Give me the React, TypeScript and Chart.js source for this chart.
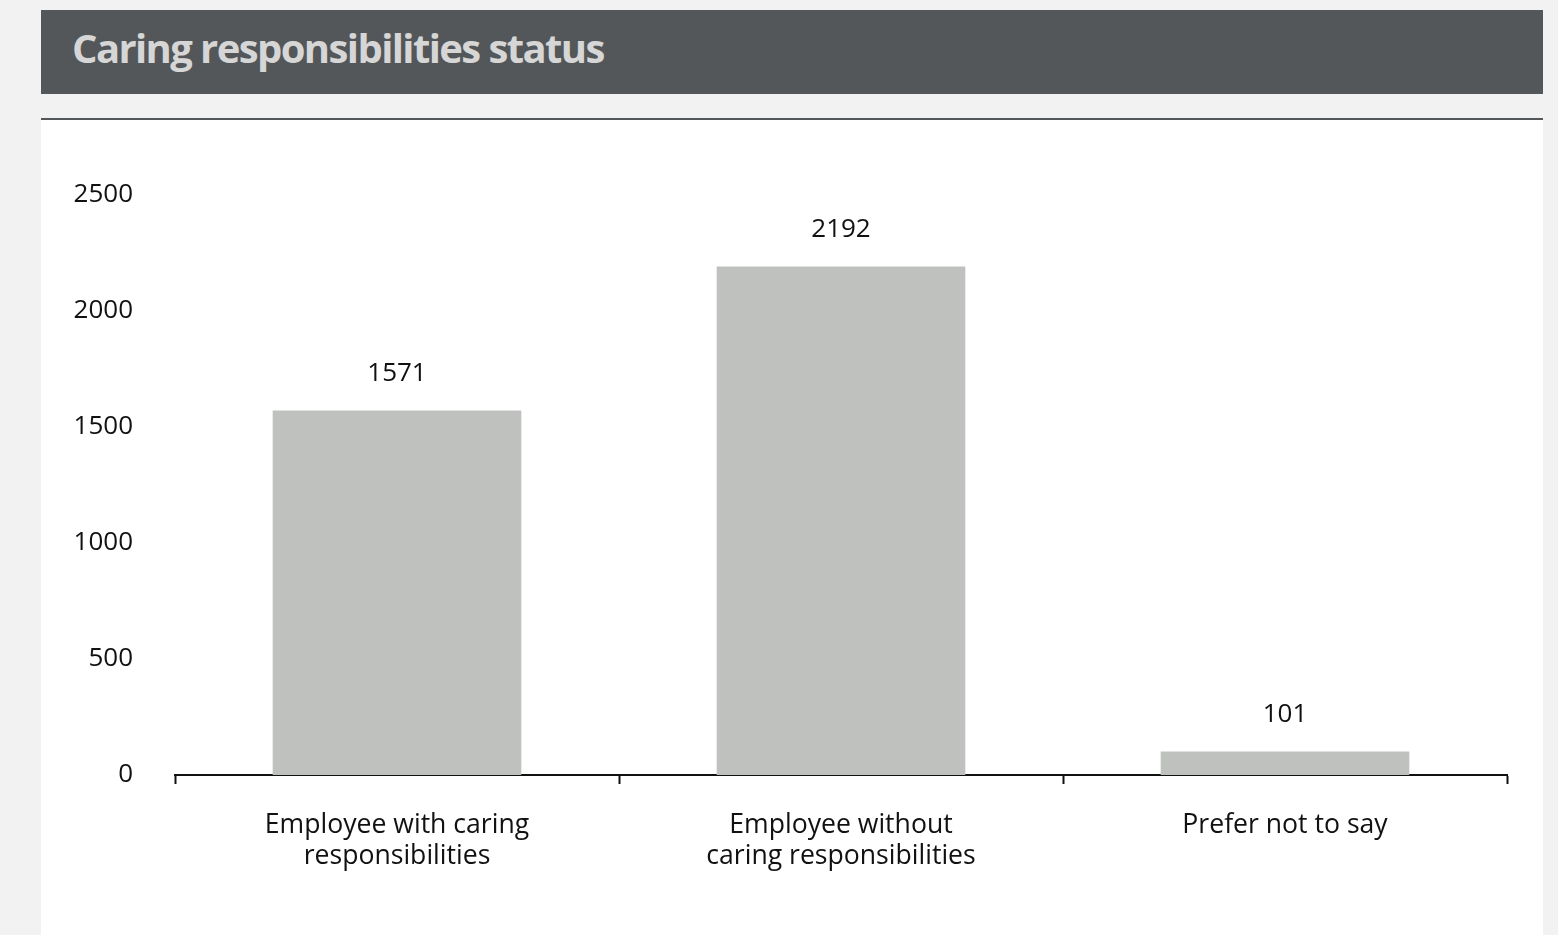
import React, { useEffect, useRef } from "react";
import { Chart, registerables } from "chart.js";

Chart.register(...registerables);

const title = "Caring responsibilities status";
const categories: (string | string[])[] = [
  ["Employee with caring", "responsibilities"],
  ["Employee without", "caring responsibilities"],
  "Prefer not to say",
];
const values = [1571, 2192, 101];
const yTicks = [0, 500, 1000, 1500, 2000, 2500];

const FONT = "'Open Sans', sans-serif";

const valueLabels = {
  id: "valueLabels",
  afterDatasetsDraw(chart: any) {
    const ctx = chart.ctx;
    const meta = chart.getDatasetMeta(0);
    ctx.save();
    ctx.font = `26px ${FONT}`;
    ctx.fillStyle = "#111";
    ctx.textAlign = "center";
    ctx.textBaseline = "middle";
    meta.data.forEach((bar: any, i: number) => {
      ctx.fillText(String(values[i]), bar.x, bar.y - 37);
    });
    ctx.restore();
  },
};

export default function App() {
  const ref = useRef<HTMLCanvasElement>(null);
  useEffect(() => {
    if (!ref.current) return;
    const chart = new Chart(ref.current, {
      type: "bar",
      data: {
        labels: categories,
        datasets: [
          {
            data: values,
            backgroundColor: "#bfc1bf",
            borderWidth: 0,
            barPercentage: 0.56,
            categoryPercentage: 1,
          },
        ],
      },
      options: {
        responsive: false,
        animation: false,
        maintainAspectRatio: false,
        layout: { padding: { top: 75, right: 36, left: 0, bottom: 0 } },
        plugins: {
          legend: { display: false },
          tooltip: { enabled: false },
          title: { display: false },
        },
        scales: {
          y: {
            min: 0,
            max: 2500,
            afterFit: (s: any) => {
              s.width = 134;
            },
            afterBuildTicks: (s: any) => {
              s.ticks = yTicks.map((v) => ({ value: v }));
            },
            grid: { display: false, drawTicks: false },
            border: { display: false },
            ticks: {
              padding: 42,
              color: "#111",
              font: { family: FONT, size: 26 },
              callback: (v: any) => String(v),
            },
          },
          x: {
            afterFit: (s: any) => {
              s.height = 160;
            },
            grid: {
              display: true,
              drawOnChartArea: false,
              drawTicks: true,
              tickLength: 9,
              tickWidth: 2,
              color: "#111",
              offset: true,
            },
            border: { display: true, color: "#111", width: 2 },
            ticks: {
              padding: 25,
              color: "#111",
              maxRotation: 0,
              autoSkip: false,
              font: { family: FONT, size: 26.6, lineHeight: 1.2 },
            },
          },
        },
      },
      plugins: [valueLabels],
    });
    return () => chart.destroy();
  }, []);

  return (
    <div
      style={{
        position: "fixed",
        left: 0,
        top: 0,
        width: 1558,
        height: 935,
        background: "#f2f2f2",
        overflow: "hidden",
      }}
    >
      <div
        style={{
          position: "absolute",
          left: 41,
          top: 10,
          width: 1502,
          height: 84,
          background: "#53575a",
        }}
      >
        <span
          style={{
            position: "absolute",
            left: 31,
            top: 14,
            lineHeight: "48px",
            whiteSpace: "nowrap",
            color: "#d6d6d6",
            fontFamily: FONT,
            fontWeight: 700,
            fontSize: 40,
            letterSpacing: -1.6,
          }}
        >
          {title}
        </span>
      </div>
      <div
        style={{
          position: "absolute",
          left: 41,
          top: 118,
          width: 1502,
          height: 2,
          background: "#53575a",
        }}
      />
      <div
        style={{
          position: "absolute",
          left: 41,
          top: 120,
          width: 1502,
          height: 815,
          background: "#ffffff",
        }}
      >
        <canvas ref={ref} width={1502} height={815} style={{ display: "block" }} />
      </div>
    </div>
  );
}
